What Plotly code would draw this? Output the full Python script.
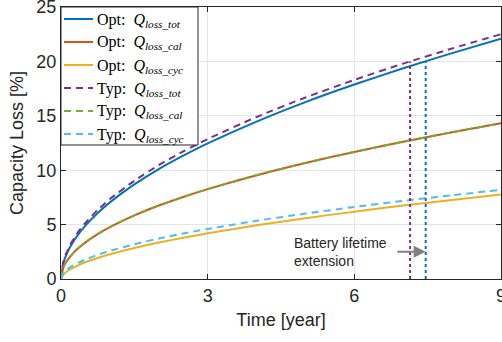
import plotly.graph_objects as go

# ---- data ----
time_year = [0, 0.05, 0.1, 0.2, 0.35, 0.5, 0.75, 1, 1.5, 2, 2.5, 3, 4, 5, 6, 7, 8, 9]

opt_tot = [0, 1.49, 2.13, 3.05, 4.08, 4.91, 6.06, 7.04, 8.69, 10.10, 11.33, 12.46, 14.47, 16.26, 17.87, 19.37, 20.76, 22.08]
opt_cal = [0, 1.07, 1.51, 2.13, 2.82, 3.37, 4.13, 4.77, 5.84, 6.75, 7.54, 8.26, 9.54, 10.67, 11.68, 12.62, 13.49, 14.31]
opt_cyc = [0, 0.42, 0.62, 0.92, 1.26, 1.54, 1.93, 2.27, 2.85, 3.35, 3.79, 4.20, 4.93, 5.59, 6.19, 6.75, 7.27, 7.77]

typ_tot = [0, 1.60, 2.28, 3.24, 4.31, 5.16, 6.35, 7.35, 9.03, 10.47, 11.72, 12.86, 14.89, 16.68, 18.30, 19.80, 21.19, 22.50]
typ_cal = [0, 1.07, 1.51, 2.13, 2.82, 3.37, 4.13, 4.77, 5.84, 6.75, 7.54, 8.26, 9.54, 10.67, 11.68, 12.62, 13.49, 14.31]
typ_cyc = [0, 0.53, 0.77, 1.11, 1.49, 1.79, 2.22, 2.58, 3.19, 3.72, 4.18, 4.60, 5.35, 6.01, 6.62, 7.18, 7.70, 8.19]

eol_threshold = 20          # capacity loss at end of life [%]
lifetime_typ = 7.14         # year
lifetime_opt = 7.46         # year

x_ticks = [0, 3, 6, 9]
y_ticks = [0, 5, 10, 15, 20, 25]

arrow_start_x = 6.85
arrow_y = 2.5
note_x = 4.72
note_text = "Battery lifetime<br>extension"

# ---- styling ----
C_BLUE = "#0072BD"
C_RED = "#D95319"
C_YEL = "#EDB120"
C_PUR = "#7E2F8E"
C_GRN = "#77AC30"
C_LBL = "#4DBEEE"
SANS = "Liberation Sans, Arial, sans-serif"
SERIF = "Liberation Serif, DejaVu Serif, serif"
DASH = "7px,5px"

W, H = 502, 342
ML, MR, MT, MB = 61, 1, 7, 63
PW, PH = W - ML - MR, H - MT - MB


def qlab(prefix, sub):
    return f"{prefix}:&nbsp;&nbsp;<i>Q</i><sub><i>loss_{sub}</i></sub>"


fig = go.Figure()

series = [
    (opt_tot, qlab("Opt", "tot"), C_BLUE, "solid"),
    (opt_cal, qlab("Opt", "cal"), C_RED, "solid"),
    (opt_cyc, qlab("Opt", "cyc"), C_YEL, "solid"),
    (typ_tot, qlab("Typ", "tot"), C_PUR, DASH),
    (typ_cal, qlab("Typ", "cal"), C_GRN, DASH),
    (typ_cyc, qlab("Typ", "cyc"), C_LBL, DASH),
]
for ys, name, col, dash in series:
    fig.add_trace(go.Scatter(
        x=time_year, y=ys, mode="lines", name=name, showlegend=False,
        line=dict(color=col, width=2, dash=dash, shape="spline", smoothing=0.6),
    ))

# end-of-life vertical dotted markers
fig.add_trace(go.Scatter(x=[lifetime_typ, lifetime_typ], y=[0, eol_threshold], mode="lines",
                         line=dict(color=C_PUR, width=2, dash="dot"), showlegend=False))
fig.add_trace(go.Scatter(x=[lifetime_opt, lifetime_opt], y=[0, eol_threshold], mode="lines",
                         line=dict(color=C_BLUE, width=2, dash="dot"), showlegend=False))

fig.add_annotation(x=lifetime_opt, y=arrow_y, ax=arrow_start_x, ay=arrow_y,
                   xref="x", yref="y", axref="x", ayref="y", text="",
                   showarrow=True, arrowhead=2, arrowsize=1.2, arrowwidth=2, arrowcolor="#808080",
                   standoff=0)
fig.add_annotation(x=note_x, y=arrow_y, xref="x", yref="y", text=note_text,
                   showarrow=False, xanchor="left", yanchor="middle", align="left",
                   font=dict(family=SANS, size=14, color="#262626"))

# ---- legend box drawn in paper coordinates (pixel layout of the reference) ----
def px_x(p):
    return (p - ML) / PW


def px_y(p):
    return (H - MB - p) / PH


fig.add_shape(type="rect", xref="paper", yref="paper",
              x0=px_x(61), x1=px_x(198), y0=px_y(145), y1=px_y(7),
              fillcolor="white", line=dict(color="#262626", width=1), layer="above")
row_y = [19, 42, 65, 88, 111, 134]
for (ys, name, col, dash), ry in zip(series, row_y):
    fig.add_shape(type="line", xref="paper", yref="paper",
                  x0=px_x(64), x1=px_x(93), y0=px_y(ry), y1=px_y(ry),
                  line=dict(color=col, width=2, dash=dash), layer="above")
    fig.add_annotation(xref="paper", yref="paper", x=px_x(95), y=px_y(ry + 1),
                       text=name, showarrow=False, xanchor="left", yanchor="middle",
                       font=dict(family=SERIF, size=16, color="black"))

axis_common = dict(
    showline=True, linecolor="#262626", linewidth=1, mirror="ticks",
    ticks="inside", ticklen=5, tickcolor="#262626",
    showgrid=True, gridcolor="#E6E6E6", gridwidth=1, zeroline=False,
    ticklabeloverflow="allow", automargin=False,
    tickfont=dict(family=SANS, size=18, color="#262626"),
)

fig.update_layout(
    width=W, height=H,
    margin=dict(l=ML, r=MR, t=MT, b=MB),
    plot_bgcolor="white", paper_bgcolor="white",
    xaxis=dict(range=[0, 9], tickvals=x_ticks,
               title=dict(text="Time [year]", standoff=8,
                          font=dict(family=SANS, size=18, color="#262626")),
               **axis_common),
    yaxis=dict(range=[0, 25], tickvals=y_ticks,
               title=dict(text="Capacity Loss [%]", standoff=8,
                          font=dict(family=SANS, size=18, color="#262626")),
               **axis_common),
    showlegend=False,
)

fig.write_html("out.html")
